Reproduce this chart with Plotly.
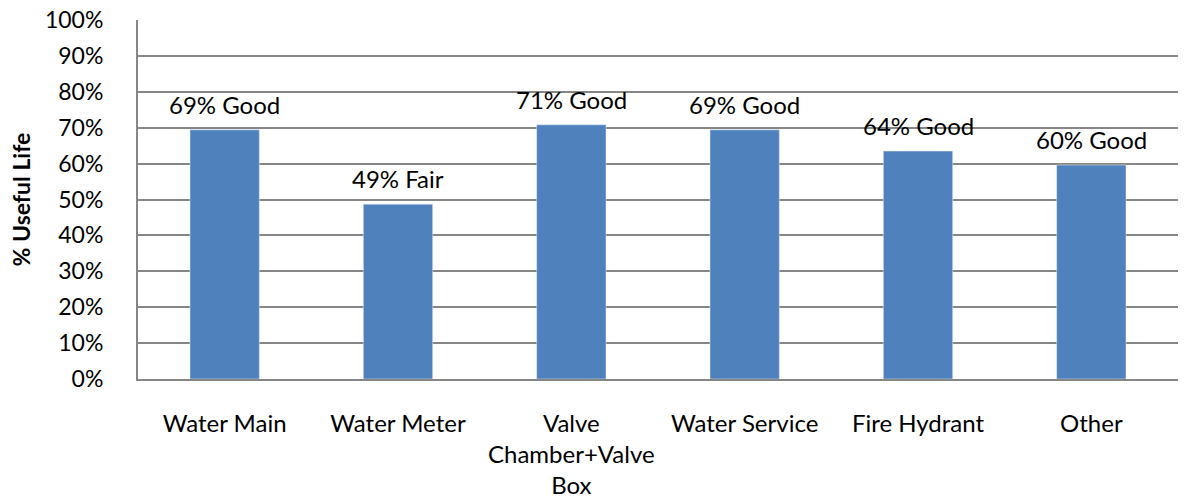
import plotly.graph_objects as go

categories = ["Water Main", "Water Meter", "Valve<br>Chamber+Valve<br>Box",
              "Water Service", "Fire Hydrant", "Other"]
useful_life = [69.4, 48.7, 70.8, 69.4, 63.5, 59.6]
labels = ["69% Good", "49% Fair", "71% Good", "69% Good", "64% Good", "60% Good"]

font = "Lato"
fig = go.Figure(go.Bar(x=categories, y=useful_life, marker_color="#4F81BD",
                       width=0.4))

for c, v, t in zip(categories, useful_life, labels):
    fig.add_annotation(x=c, y=v, text=t, showarrow=False, yanchor="bottom",
                       yshift=10, borderpad=0,
                       font=dict(family=font, size=24, color="black"))

fig.update_layout(
    width=1191, height=500,
    margin=dict(l=138, r=13, t=20, b=121, autoexpand=False),
    plot_bgcolor="white", paper_bgcolor="white",
    showlegend=False,
    font=dict(family=font, size=24, color="black"),
)
fig.update_yaxes(range=[0, 100], dtick=10, ticksuffix="%", automargin=False,
                 showgrid=True, gridcolor="#868686", gridwidth=1.5,
                 showline=True, linecolor="#868686", linewidth=2,
                 ticks="", ticklabelstandoff=28, tickfont=dict(size=23),
                 title=dict(text="<b>% Useful Life</b>", standoff=8,
                            font=dict(size=23)))
fig.update_xaxes(showline=True, linecolor="#868686", linewidth=2,
                 automargin=False, ticks="", ticklabelstandoff=22)

fig.write_html("out.html", config={"displayModeBar": False},
               post_script="document.body.style.margin='0px';")
